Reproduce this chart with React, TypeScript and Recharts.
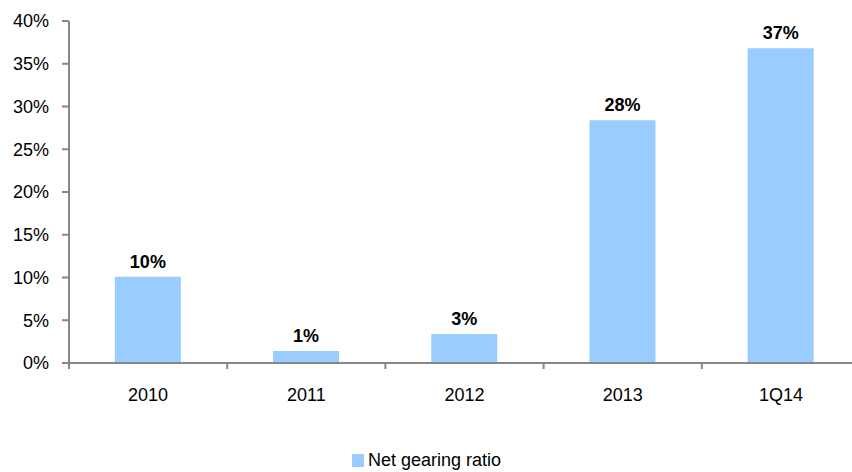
import { Bar, BarChart, LabelList, XAxis, YAxis } from "recharts";

const categories = ["2010", "2011", "2012", "2013", "1Q14"];
const gearing = [10.1, 1.4, 3.4, 28.4, 36.8];
const yTicks = [0, 5, 10, 15, 20, 25, 30, 35, 40];

const FONT = "'Liberation Sans', Arial, sans-serif";
const AXIS = "#878787";
const BAR = "#99CCFF";
const X_TICK_SIZE = 6;
const X_TICK_MARGIN = 19;

const data = categories.map((name, i) => ({ name, value: gearing[i] }));

// category labels with the small marks drawn on the band edges, not the centres
function CategoryTick(props: any) {
  const { x, y, payload, index, width, visibleTicksCount } = props;
  const band = (width || 791) / (visibleTicksCount || categories.length);
  const axisY = y - X_TICK_MARGIN - X_TICK_SIZE;
  const right = x + band / 2;
  const left = x - band / 2;
  return (
    <g>
      {index === 0 && (
        <line x1={left} x2={left} y1={axisY} y2={axisY + X_TICK_SIZE} stroke={AXIS} strokeWidth={2} />
      )}
      <line x1={right} x2={right} y1={axisY} y2={axisY + X_TICK_SIZE} stroke={AXIS} strokeWidth={2} />
      <text x={x} y={y} dy="0.71em" textAnchor="middle" fill="#000" fontSize={18} fontFamily={FONT}>
        {payload.value}
      </text>
    </g>
  );
}

export default function App() {
  return (
    <div
      style={{
        position: "absolute",
        left: 8,
        top: 8,
        width: 844,
        height: 464,
        overflow: "hidden",
        fontFamily: FONT,
      }}
    >
      <BarChart
        width={870}
        height={464}
        data={data}
        margin={{ top: 13, right: 18, bottom: 79, left: 0 }}
        barCategoryGap="29%"
      >
        <YAxis
          width={61}
          domain={[0, 40]}
          ticks={yTicks}
          interval={0}
          tickFormatter={(v: number) => `${v}%`}
          axisLine={{ stroke: AXIS, strokeWidth: 2 }}
          tickLine={{ stroke: AXIS, strokeWidth: 2 }}
          tickSize={7}
          tickMargin={13}
          tick={{ fill: "#000", fontSize: 18, fontFamily: FONT }}
        />
        <XAxis
          dataKey="name"
          height={30}
          axisLine={{ stroke: AXIS, strokeWidth: 2 }}
          tickLine={false}
          tickSize={X_TICK_SIZE}
          tickMargin={X_TICK_MARGIN}
          interval={0}
          tick={<CategoryTick />}
        />
        <Bar dataKey="value" fill={BAR} isAnimationActive={false}>
          <LabelList
            dataKey="value"
            position="top"
            offset={9}
            formatter={(v: any) => `${Math.round(Number(v))}%`}
            style={{ fill: "#000", fontSize: 18, fontWeight: 700, fontFamily: FONT }}
          />
        </Bar>
      </BarChart>
      <div
        style={{
          position: "absolute",
          left: 344,
          top: 443,
          display: "flex",
          alignItems: "flex-start",
          fontSize: 18,
          lineHeight: "18px",
          color: "#000",
        }}
      >
        <span style={{ width: 12, height: 13, marginTop: 3, marginRight: 4, background: BAR }} />
        <span>Net gearing ratio</span>
      </div>
    </div>
  );
}
